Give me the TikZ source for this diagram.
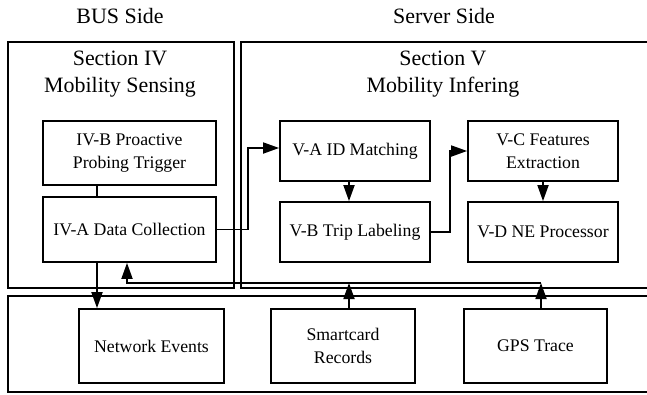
\documentclass[tikz,border=0pt]{standalone}
\usepackage{fontspec}
\setmainfont{Liberation Serif}
\usetikzlibrary{arrows.meta,positioning}

\tikzset{
  blk/.style={draw,align=center,inner sep=2pt,font=\fontsize{17.8}{23}\selectfont},
  ttl/.style={align=center,inner sep=0pt,font=\fontsize{22}{27}\selectfont},
}

\begin{document}
\begin{tikzpicture}[x=1bp,y=-1bp,line width=1.8pt,>={Triangle[length=16bp,width=11bp]}]
    \useasboundingbox (0,0) rectangle (647,394);
    % panels
    \draw (8,42) rectangle (234,288);
    \draw (241,42) rectangle (690,288);
    \draw (8,296) rectangle (690,392);
    % headings
    \node[ttl] (busside) at (120,16) {BUS Side};
    \node[ttl] (srvside) at (444,16) {Server Side};
    \node[ttl] (sec4) at (120,74) {Section IV\\Mobility Sensing};
    \node[ttl] (sec5) at (443,74) {Section V\\Mobility Infering};
    % blocks
    \node[blk,minimum width=173bp,minimum height=64bp] (ivb) at (129.5,153) {IV-B Proactive\\Probing Trigger};
    \node[blk,minimum width=173bp,minimum height=65bp] (iva) at (129.5,229.5) {IV-A Data Collection};
    \node[blk,minimum width=150bp,minimum height=60bp] (va) at (355,151) {V-A ID Matching};
    \node[blk,minimum width=150bp,minimum height=60bp] (vb) at (355,232) {V-B Trip Labeling};
    \node[blk,minimum width=150bp,minimum height=60bp] (vc) at (543,151) {V-C Features\\Extraction};
    \node[blk,minimum width=150bp,minimum height=60bp] (vd) at (543,232) {V-D NE Processor};
    \node[blk,minimum width=145bp,minimum height=74bp] (ne) at (151.5,346) {Network Events};
    \node[blk,minimum width=144bp,minimum height=74bp] (sc) at (343,346) {Smartcard\\Records};
    \node[blk,minimum width=143bp,minimum height=74bp] (gps) at (535.5,346) {GPS Trace};
    % connectors
    \coordinate (dn) at (97,0);
    \coordinate (up) at (127,0);
    \coordinate (sj) at (349,283);
    \coordinate (gj) at (541,283);
    \draw (ivb.south -| dn) -- (iva.north -| dn);
    \draw[->] (iva.south -| dn) -- (ne.north -| dn);
    \draw[->] (iva.east) -- ++(31,0) |- ([yshift=3bp]va.west);
    \draw[->] ([xshift=-6bp]va.south) -- ([xshift=-6bp]vb.north);
    \draw[->] (vb.east) -- ++(19,0) |- (vc.west);
    \draw[->] (vc.south) -- (vd.north);
    \draw[->] (sc.north -| sj) -- (sj);
    \draw[->] (gps.north -| gj) -- (gj);
    \draw[->] (gj) -| (iva.south -| up);
\end{tikzpicture}
\end{document}
